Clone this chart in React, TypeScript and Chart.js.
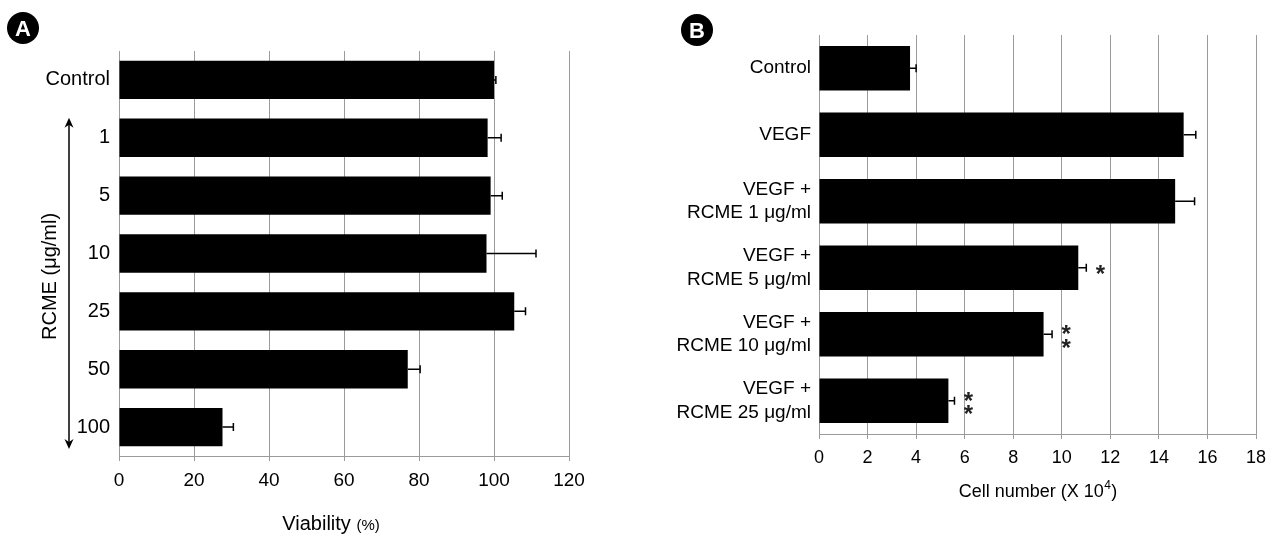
import React, { useEffect, useRef } from "react";
import { Chart, registerables } from "chart.js";

Chart.register(...registerables);

const FONT = "'Liberation Sans', Arial, Helvetica, sans-serif";
const GRID = "#9b9b9b";

// ---- Panel A data ----
const viabilityCategories = ["Control", "1", "5", "10", "25", "50", "100"];
const viabilityValues = [100, 98.3, 99.1, 98.0, 105.4, 77.0, 27.6];
const viabilityErrors = [0.5, 3.6, 3.1, 13.2, 3.0, 3.3, 2.9];
const viabilityMin = 0;
const viabilityMax = 120;
const viabilityStep = 20;

// ---- Panel B data ----
const cellCategories: (string | string[])[] = [
  "Control",
  "VEGF",
  ["VEGF +", "RCME 1 \u03bcg/ml"],
  ["VEGF +", "RCME 5 \u03bcg/ml"],
  ["VEGF +", "RCME 10 \u03bcg/ml"],
  ["VEGF +", "RCME 25 \u03bcg/ml"],
];
const cellValues = [3.75, 15.02, 14.67, 10.68, 9.25, 5.33];
const cellErrors = [0.25, 0.5, 0.8, 0.33, 0.35, 0.25];
const cellMarks = ["", "", "", "*", "**", "**"];
const cellMin = 0;
const cellMax = 18;
const cellStep = 2;

function errorBarPlugin(errors: number[]) {
  return {
    id: "errorBars",
    afterDatasetsDraw(chart: any) {
      const meta = chart.getDatasetMeta(0);
      const xs = chart.scales.x;
      const values = chart.data.datasets[0].data as number[];
      const ctx = chart.ctx as CanvasRenderingContext2D;
      ctx.save();
      ctx.strokeStyle = "#000";
      ctx.lineWidth = 1.5;
      meta.data.forEach((bar: any, i: number) => {
        const x0 = xs.getPixelForValue(values[i]);
        const x1 = xs.getPixelForValue(values[i] + errors[i]);
        const y = bar.y;
        ctx.beginPath();
        ctx.moveTo(x0, y);
        ctx.lineTo(x1, y);
        ctx.moveTo(x1, y - 4);
        ctx.lineTo(x1, y + 4);
        ctx.stroke();
      });
      ctx.restore();
    },
  };
}

function badgePlugin(letter: string, cx: number, cy: number) {
  return {
    id: "badge" + letter,
    afterDraw(chart: any) {
      const ctx = chart.ctx as CanvasRenderingContext2D;
      ctx.save();
      ctx.fillStyle = "#000";
      ctx.beginPath();
      ctx.arc(cx, cy, 16, 0, Math.PI * 2);
      ctx.fill();
      ctx.fillStyle = "#fff";
      ctx.font = `bold 22px ${FONT}`;
      ctx.textAlign = "center";
      const m = ctx.measureText(letter);
      const base = cy + (m.actualBoundingBoxAscent - m.actualBoundingBoxDescent) / 2;
      ctx.textBaseline = "alphabetic";
      ctx.fillText(letter, cx, base);
      ctx.restore();
    },
  };
}

function arrowHead(ctx: CanvasRenderingContext2D, x: number, tipY: number, dir: number) {
  const len = 10;
  const half = 4.5;
  ctx.beginPath();
  ctx.moveTo(x, tipY);
  ctx.lineTo(x - half, tipY + dir * len);
  ctx.lineTo(x, tipY + dir * (len - 3));
  ctx.lineTo(x + half, tipY + dir * len);
  ctx.closePath();
  ctx.fill();
}

const panelAExtras = {
  id: "panelAExtras",
  afterDraw(chart: any) {
    const ctx = chart.ctx as CanvasRenderingContext2D;
    const ys = chart.scales.y;
    const area = chart.chartArea;
    const yTop = ys.getPixelForValue(1) - 20;
    const yBot = ys.getPixelForValue(6) + 22;
    const ax = 69;
    ctx.save();
    ctx.strokeStyle = "#000";
    ctx.fillStyle = "#000";
    ctx.lineWidth = 1.5;
    ctx.beginPath();
    ctx.moveTo(ax, yTop + 4);
    ctx.lineTo(ax, yBot - 4);
    ctx.stroke();
    arrowHead(ctx, ax, yTop, 1);
    arrowHead(ctx, ax, yBot, -1);

    ctx.save();
    ctx.translate(50, (yTop + yBot) / 2 - 7);
    ctx.rotate(-Math.PI / 2);
    ctx.font = `20px ${FONT}`;
    ctx.textAlign = "center";
    ctx.textBaseline = "middle";
    ctx.fillText("RCME (\u03bcg/ml)", 0, 0);
    ctx.restore();

    const big = "Viability ";
    const small = "(%)";
    ctx.font = `20px ${FONT}`;
    const w1 = ctx.measureText(big).width;
    ctx.font = `15px ${FONT}`;
    const w2 = ctx.measureText(small).width;
    const cx = (area.left + area.right) / 2 - 13;
    const start = cx - (w1 + w2) / 2;
    ctx.textAlign = "left";
    ctx.textBaseline = "alphabetic";
    ctx.font = `20px ${FONT}`;
    ctx.fillText(big, start, 530);
    ctx.font = `15px ${FONT}`;
    ctx.fillText(small, start + w1, 530);
    ctx.restore();
  },
};

const panelBExtras = {
  id: "panelBExtras",
  afterDatasetsDraw(chart: any) {
    const ctx = chart.ctx as CanvasRenderingContext2D;
    const meta = chart.getDatasetMeta(0);
    const xs = chart.scales.x;
    ctx.save();
    ctx.fillStyle = "#222";
    ctx.font = `bold 24px ${FONT}`;
    ctx.textAlign = "center";
    ctx.textBaseline = "alphabetic";
    const m = ctx.measureText("*");
    const shift = (m.actualBoundingBoxAscent - m.actualBoundingBoxDescent) / 2;
    meta.data.forEach((bar: any, i: number) => {
      const mark = cellMarks[i];
      if (!mark) return;
      const x = xs.getPixelForValue(cellValues[i] + cellErrors[i]) + 14;
      const cy = bar.y + 2;
      const n = mark.length;
      for (let k = 0; k < n; k++) {
        const y = cy + (k - (n - 1) / 2) * 13.5;
        ctx.fillText("*", x, y + shift);
      }
    });
    ctx.restore();
  },
  afterDraw(chart: any) {
    const ctx = chart.ctx as CanvasRenderingContext2D;
    const area = chart.chartArea;
    const main = "Cell number (X 10";
    const sup = "4";
    const close = ")";
    ctx.save();
    ctx.fillStyle = "#000";
    ctx.textAlign = "left";
    ctx.textBaseline = "alphabetic";
    ctx.font = `18px ${FONT}`;
    const w1 = ctx.measureText(main).width;
    const w3 = ctx.measureText(close).width;
    ctx.font = `12px ${FONT}`;
    const w2 = ctx.measureText(sup).width;
    const cx = (area.left + area.right) / 2;
    const start = cx - (w1 + w2 + w3) / 2;
    const base = 497;
    ctx.font = `18px ${FONT}`;
    ctx.fillText(main, start, base);
    ctx.font = `12px ${FONT}`;
    ctx.fillText(sup, start + w1 + 0.5, base - 8);
    ctx.font = `18px ${FONT}`;
    ctx.fillText(close, start + w1 + w2 + 1, base);
    ctx.restore();
  },
};

function makeConfig(opts: {
  labels: (string | string[])[];
  values: number[];
  min: number;
  max: number;
  step: number;
  barPct: number;
  padding: { left: number; top: number; right: number; bottom: number };
  yWidth: number;
  xHeight: number;
  yFont: number;
  yPad: number;
  yLineHeight: number;
  xFont: number;
  xPad: number;
  plugins: any[];
}): any {
  return {
    type: "bar",
    data: {
      labels: opts.labels,
      datasets: [
        {
          data: opts.values,
          backgroundColor: "#000",
          borderWidth: 0,
          barPercentage: opts.barPct,
          categoryPercentage: 1,
        },
      ],
    },
    options: {
      indexAxis: "y",
      animation: false,
      responsive: false,
      devicePixelRatio: 1,
      layout: { padding: opts.padding },
      plugins: {
        legend: { display: false },
        tooltip: { enabled: false },
        title: { display: false },
      },
      scales: {
        x: {
          min: opts.min,
          max: opts.max,
          ticks: {
            stepSize: opts.step,
            padding: opts.xPad,
            color: "#000",
            font: { family: FONT, size: opts.xFont },
            maxRotation: 0,
          },
          grid: {
            color: GRID,
            lineWidth: 1,
            drawTicks: true,
            tickLength: 5,
            tickColor: GRID,
          },
          border: { display: true, color: GRID, width: 1 },
          afterFit: (s: any) => {
            s.height = opts.xHeight;
            s.paddingRight = 0;
            s.paddingLeft = 0;
          },
        },
        y: {
          grid: { display: false, drawTicks: false },
          border: { display: true, color: GRID, width: 1 },
          ticks: {
            padding: opts.yPad,
            color: "#000",
            font: { family: FONT, size: opts.yFont, lineHeight: opts.yLineHeight },
          },
          afterFit: (s: any) => {
            s.width = opts.yWidth;
          },
        },
      },
    },
    plugins: opts.plugins,
  };
}

export default function App() {
  const refA = useRef<HTMLCanvasElement>(null);
  const refB = useRef<HTMLCanvasElement>(null);

  useEffect(() => {
    const cfgA = makeConfig({
      labels: viabilityCategories,
      values: viabilityValues,
      min: viabilityMin,
      max: viabilityMax,
      step: viabilityStep,
      barPct: 0.663,
      padding: { left: 0, top: 51, right: 71, bottom: 0 },
      yWidth: 119,
      xHeight: 78,
      yFont: 20,
      yPad: 9,
      yLineHeight: 1.2,
      xFont: 19,
      xPad: 8,
      plugins: [errorBarPlugin(viabilityErrors), panelAExtras, badgePlugin("A", 23, 28)],
    });
    const cfgB = makeConfig({
      labels: cellCategories,
      values: cellValues,
      min: cellMin,
      max: cellMax,
      step: cellStep,
      barPct: 0.671,
      padding: { left: 0, top: 35, right: 10, bottom: 0 },
      yWidth: 179,
      xHeight: 100,
      yFont: 19,
      yPad: 8,
      yLineHeight: 1.25,
      xFont: 18,
      xPad: 8,
      plugins: [errorBarPlugin(cellErrors), panelBExtras, badgePlugin("B", 57, 30)],
    });
    const a = new Chart(refA.current as HTMLCanvasElement, cfgA);
    const b = new Chart(refB.current as HTMLCanvasElement, cfgB);
    return () => {
      a.destroy();
      b.destroy();
    };
  }, []);

  return (
    <div
      style={{
        position: "fixed",
        left: 0,
        top: 0,
        width: 1266,
        height: 534,
        background: "#fff",
      }}
    >
      <canvas
        ref={refA}
        width={640}
        height={534}
        style={{ position: "absolute", left: 0, top: 0, width: 640, height: 534 }}
      />
      <canvas
        ref={refB}
        width={626}
        height={534}
        style={{ position: "absolute", left: 640, top: 0, width: 626, height: 534 }}
      />
    </div>
  );
}
